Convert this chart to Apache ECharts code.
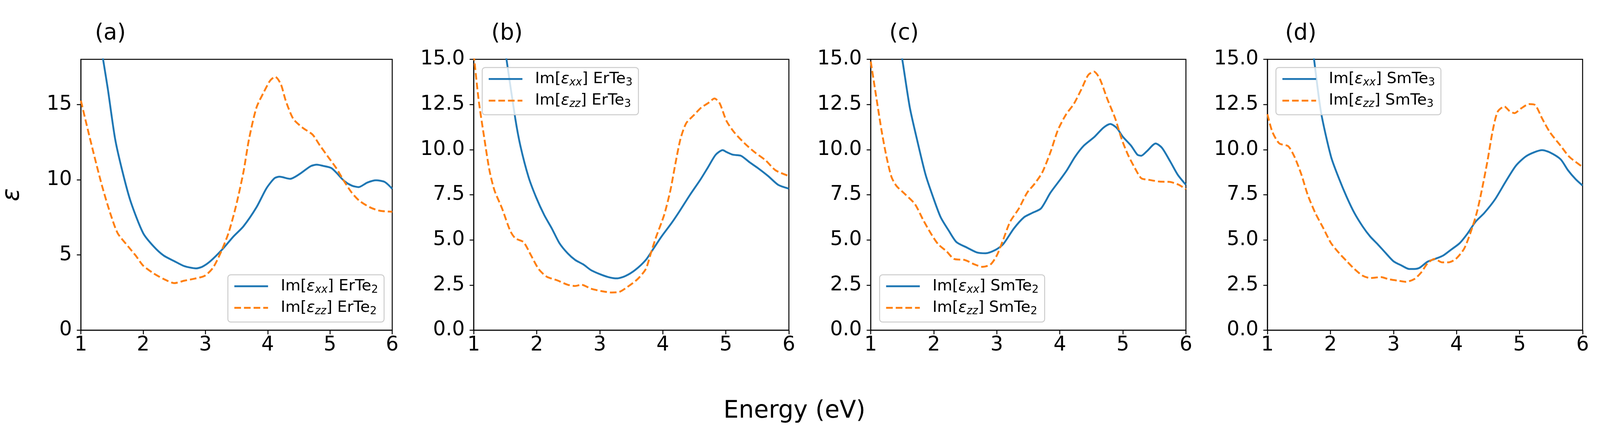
<!DOCTYPE html>
<html lang="en">
<head>
    <meta charset="UTF-8">
    <title>Im eps</title>
    <script src="https://cdn.jsdelivr.net/npm/echarts@6/dist/echarts.min.js"></script>
    <style>
        html, body { margin: 0; padding: 0; background: #fff; overflow: hidden; }
        #main { width: 100vw; height: 100vh; }
    </style>
</head>
<body>
<div id="main"></div>
<script>
    // panel (a) ErTe2
    var eA_xx = [1.0,1.1,1.2,1.3,1.36,1.43,1.55,1.67,1.80,2.00,2.17,2.33,2.50,2.66,2.85,2.95,3.08,3.28,3.45,3.61,3.82,3.98,4.11,4.19,4.36,4.52,4.69,4.79,4.89,5.02,5.10,5.23,5.35,5.46,5.60,5.74,5.88,6.00];
    var vA_xx = [31,26.5,22.5,19.5,17.9,16.1,12.7,10.5,8.54,6.45,5.56,4.96,4.59,4.26,4.11,4.22,4.59,5.41,6.23,6.90,8.17,9.43,10.1,10.2,10.06,10.4,10.9,11.0,10.92,10.78,10.48,9.91,9.61,9.51,9.81,9.96,9.85,9.40];
    var eA_zz = [1.0,1.095,1.22,1.34,1.47,1.59,1.76,1.88,2.00,2.17,2.33,2.50,2.66,2.83,2.99,3.12,3.24,3.37,3.49,3.61,3.70,3.82,3.94,4.04,4.12,4.21,4.29,4.41,4.56,4.72,4.84,4.97,5.10,5.23,5.35,5.47,5.64,5.80,6.00];
    var vA_zz = [15.25,13.6,11.5,9.58,7.79,6.45,5.56,4.96,4.29,3.77,3.40,3.13,3.29,3.43,3.62,4.14,5.11,6.45,8.24,10.5,12.7,14.8,15.84,16.59,16.84,16.36,15.25,14.05,13.46,13.0,12.27,11.52,10.78,9.88,9.14,8.61,8.17,7.94,7.87];

    // panel (b) ErTe3
    var eB_xx = [1.0,1.2,1.4,1.52,1.66,1.74,1.87,1.99,2.12,2.24,2.36,2.49,2.61,2.74,2.86,3.02,3.15,3.27,3.40,3.56,3.73,3.85,3.98,4.14,4.26,4.43,4.60,4.72,4.84,4.95,5.01,5.11,5.24,5.38,5.50,5.67,5.83,6.00];
    var vB_xx = [28,22,17.8,15.0,11.71,10.22,8.48,7.36,6.37,5.63,4.82,4.26,3.89,3.64,3.33,3.08,2.93,2.87,2.99,3.33,3.89,4.51,5.19,5.94,6.56,7.49,8.36,9.04,9.72,9.97,9.87,9.72,9.66,9.29,9.0,8.54,8.05,7.84];
    var eB_zz = [1.0,1.08,1.17,1.25,1.33,1.45,1.58,1.66,1.79,1.91,2.03,2.16,2.32,2.49,2.61,2.71,2.86,3.02,3.19,3.31,3.44,3.60,3.73,3.81,3.89,4.02,4.12,4.20,4.28,4.37,4.49,4.61,4.72,4.82,4.90,5.01,5.13,5.30,5.46,5.63,5.79,6.00];
    var vB_zz = [15.3,12.7,10.59,8.85,7.74,6.74,5.50,5.09,4.88,4.14,3.39,2.96,2.77,2.52,2.45,2.52,2.30,2.17,2.09,2.12,2.40,2.83,3.39,4.26,5.13,6.37,7.74,9.23,10.59,11.46,11.9,12.33,12.58,12.83,12.58,11.59,10.97,10.34,9.85,9.41,8.85,8.54];

    // panel (c) SmTe2
    var eC_xx = [1.0,1.2,1.4,1.5,1.62,1.74,1.87,1.99,2.11,2.24,2.36,2.53,2.69,2.82,2.98,3.10,3.27,3.43,3.56,3.70,3.85,4.01,4.11,4.24,4.38,4.55,4.69,4.80,4.90,5.00,5.13,5.23,5.29,5.38,5.52,5.62,5.75,5.87,6.00];
    var vC_xx = [26,20.5,17,15.0,12.33,10.47,8.61,7.36,6.25,5.50,4.88,4.57,4.30,4.26,4.45,4.76,5.63,6.25,6.49,6.74,7.61,8.36,8.85,9.60,10.22,10.71,11.21,11.42,11.21,10.71,10.22,9.72,9.66,9.91,10.34,10.1,9.35,8.61,8.05];
    var eC_zz = [1.0,1.08,1.17,1.25,1.33,1.41,1.54,1.70,1.83,1.95,2.07,2.20,2.32,2.49,2.65,2.77,2.90,3.00,3.10,3.21,3.35,3.48,3.60,3.72,3.85,3.97,4.10,4.22,4.34,4.45,4.54,4.63,4.75,4.88,4.98,5.08,5.19,5.29,5.41,5.58,5.75,5.89,6.00];
    var vC_zz = [14.88,13.08,11.09,9.60,8.48,7.98,7.55,6.99,6.12,5.38,4.76,4.38,3.95,3.89,3.64,3.51,3.64,4.14,5.0,6.0,6.74,7.61,8.11,8.73,9.85,11.09,11.96,12.52,13.33,14.13,14.32,13.95,12.83,11.71,10.59,9.72,8.98,8.42,8.33,8.23,8.21,8.05,7.80];

    // panel (d) SmTe3
    var eD_xx = [1.0,1.3,1.5,1.65,1.74,1.85,2.01,2.14,2.26,2.38,2.51,2.63,2.75,2.88,3.00,3.13,3.25,3.33,3.41,3.54,3.66,3.79,3.91,4.05,4.18,4.30,4.44,4.61,4.78,4.94,5.09,5.23,5.36,5.48,5.65,5.77,5.89,6.00];
    var vD_xx = [36,27,21.5,17.5,15.0,12.08,9.60,8.36,7.36,6.49,5.75,5.19,4.76,4.26,3.82,3.58,3.39,3.39,3.45,3.79,3.95,4.14,4.45,4.82,5.38,6.0,6.49,7.24,8.23,9.10,9.60,9.85,9.97,9.85,9.47,8.85,8.36,8.01];
    var eD_zz = [1.0,1.08,1.19,1.33,1.43,1.54,1.64,1.76,1.89,2.01,2.14,2.26,2.38,2.51,2.63,2.80,2.92,3.08,3.20,3.33,3.44,3.54,3.65,3.77,3.87,3.99,4.12,4.22,4.32,4.40,4.49,4.57,4.65,4.76,4.84,4.92,5.02,5.15,5.25,5.36,5.48,5.65,5.79,6.00];
    var vD_zz = [11.96,10.97,10.34,10.19,9.60,8.61,7.49,6.49,5.63,4.82,4.26,3.82,3.39,3.02,2.89,2.94,2.83,2.74,2.68,2.83,3.20,3.70,3.95,3.76,3.76,3.95,4.51,5.38,6.49,7.74,9.35,10.97,12.08,12.39,12.14,12.02,12.27,12.52,12.46,11.71,10.97,10.22,9.60,9.04];

    var panelTags = ['(a)', '(b)', '(c)', '(d)'];
    var materials = ['ErTe2', 'ErTe3', 'SmTe2', 'SmTe3'];
    var components = ['xx', 'zz'];
    var yMax = [18, 15, 15, 15];
    var yStep = [5, 2.5, 2.5, 2.5];

    var energies = [[eA_xx, eA_zz], [eB_xx, eB_zz], [eC_xx, eC_zz], [eD_xx, eD_zz]];
    var values = [[vA_xx, vA_zz], [vB_xx, vB_zz], [vC_xx, vC_zz], [vD_xx, vD_zz]];

    var FONT = 'DejaVu Sans';
    var colors = ['#1f77b4', '#ff7f0e'];

    var myChart = echarts.init(document.getElementById('main'), null, {renderer: 'canvas'});
    // layout was measured on a 4320x1117 page, scale it to whatever we got
    var W = myChart.getWidth(), H = myChart.getHeight();
    var kx = W / 4320, ky = H / 1117, k = Math.min(kx, ky);
    function px(v) { return v * kx; }
    function py(v) { return v * ky; }
    function fs(v) { return v * k; }

    var gridLeft = [208, 1279, 2351, 3422];
    var gridTop = 152, gridW = 851, gridH = 694;

    function zip(xs, ys) {
        return xs.map(function (x, i) { return [x, ys[i]]; });
    }

    var grid = [], xAxis = [], yAxis = [], series = [], legend = [], graphic = [];

    for (var i = 0; i < 4; i++) {
        grid.push({
            left: px(gridLeft[i]), top: py(gridTop), width: px(gridW), height: py(gridH),
            show: true, borderColor: '#000', borderWidth: fs(2.6), backgroundColor: 'transparent'
        });
        xAxis.push({
            type: 'value', gridIndex: i, min: 1, max: 6, interval: 1,
            axisLine: {show: true, lineStyle: {color: '#000', width: fs(2.6)}},
            axisTick: {show: true, inside: false, length: fs(11), lineStyle: {color: '#000', width: fs(2.6)}},
            axisLabel: {color: '#000', fontSize: fs(54), fontFamily: FONT, margin: fs(14)},
            splitLine: {show: false}
        });
        var yTickVals = [];
        for (var t = 0; t <= yMax[i] + 1e-9; t += yStep[i]) yTickVals.push(t);
        yAxis.push({
            type: 'value', gridIndex: i, min: 0, max: yMax[i], interval: yStep[i],
            name: i === 0 ? 'ε' : '',
            nameLocation: 'middle', nameGap: fs(152), nameRotate: 90,
            nameTextStyle: {fontSize: fs(65), fontFamily: FONT, fontStyle: 'italic', color: '#000'},
            axisLine: {show: true, lineStyle: {color: '#000', width: fs(2.6)}},
            axisTick: {show: true, inside: false, length: fs(11), customValues: yTickVals,
                lineStyle: {color: '#000', width: fs(2.6)}},
            axisLabel: {
                color: '#000', fontSize: fs(54), fontFamily: FONT, margin: fs(24),
                customValues: yTickVals,
                formatter: (function (step) {
                    return function (v) { return step < 5 ? v.toFixed(1) : String(Math.round(v)); };
                })(yStep[i])
            },
            splitLine: {show: false}
        });

        var names = [];
        for (var c = 0; c < 2; c++) {
            var nm = components[c] + ' ' + materials[i];
            names.push(nm);
            series.push({
                name: nm, type: 'line', xAxisIndex: i, yAxisIndex: i,
                data: zip(energies[i][c], values[i][c]),
                smooth: 0.25, symbol: 'none', showSymbol: false, clip: true,
                lineStyle: {color: colors[c], width: fs(5), type: c === 0 ? 'solid' : [fs(18), fs(8)]},
                itemStyle: {color: colors[c]},
                z: 2
            });
        }

        var lg = {
            data: names, orient: 'vertical',
            backgroundColor: 'rgba(255,255,255,0.8)',
            borderColor: '#cccccc', borderWidth: fs(2.6), borderRadius: fs(8),
            padding: [fs(10), fs(16), fs(14), fs(15)],
            itemWidth: fs(91), itemHeight: fs(20), itemGap: fs(13),
            itemStyle: {opacity: 0},
            lineStyle: {width: fs(5)},
            selectedMode: false,
            formatter: function (name) {
                var p = name.split(' ');
                var m = p[1];
                return '{t|Im[}{e|ε}{s|' + p[0] + '}{t|] ' + m.slice(0, -1) + '}{n|' + m.slice(-1) + '}';
            },
            textStyle: {
                padding: [0, 0, 0, fs(29)],
                rich: {
                    t: {fontSize: fs(42), fontFamily: FONT, color: '#000'},
                    e: {fontSize: fs(42), fontFamily: FONT, fontStyle: 'italic', color: '#000'},
                    s: {fontSize: fs(29), fontFamily: FONT, fontStyle: 'italic', color: '#000', padding: [fs(20), 0, 0, 0]},
                    n: {fontSize: fs(29), fontFamily: FONT, color: '#000', padding: [fs(20), 0, 0, 0]}
                }
            }
        };
        if (i === 0) { lg.right = px(4320 - 1037); lg.bottom = py(1117 - 825); }
        else if (i === 2) { lg.left = px(gridLeft[i] + 24); lg.bottom = py(1117 - 825); }
        else { lg.left = px(gridLeft[i] + 23); lg.top = py(173); }
        legend.push(lg);

        graphic.push({
            type: 'text', x: px(gridLeft[i] + 90), y: py(86),
            style: {text: panelTags[i], font: fs(60) + 'px "DejaVu Sans"', fill: '#000',
                textAlign: 'center', textVerticalAlign: 'middle'}
        });
    }

    graphic.push({
        type: 'text', x: px(2145), y: py(1054),
        style: {text: 'Energy (eV)', font: fs(65) + 'px "DejaVu Sans"', fill: '#000',
            textAlign: 'center', textVerticalAlign: 'middle'}
    });

    var option = {
        animation: false,
        backgroundColor: '#fff',
        grid: grid,
        xAxis: xAxis,
        yAxis: yAxis,
        legend: legend,
        graphic: graphic,
        series: series
    };
    myChart.setOption(option);
</script>
</body>
</html>
